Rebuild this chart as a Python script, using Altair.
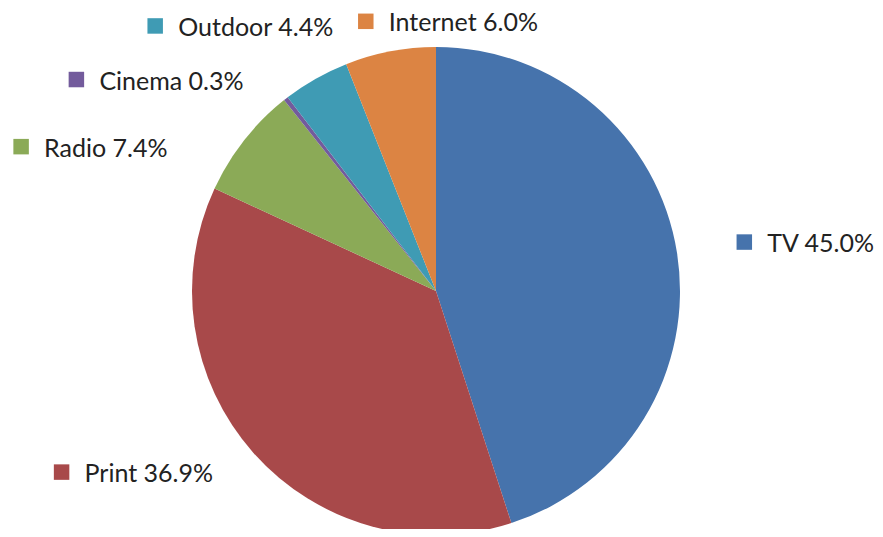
import altair as alt
import pandas as pd

# --- data ---
categories = ["TV", "Print", "Radio", "Cinema", "Outdoor", "Internet"]
shares = [45.0, 36.9, 7.4, 0.3, 4.4, 6.0]
labels = ["TV 45.0%", "Print 36.9%", "Radio 7.4%", "Cinema 0.3%", "Outdoor 4.4%", "Internet 6.0%"]
colors = ["#4673AC", "#A8494A", "#8BAA57", "#735B9C", "#3F9BB4", "#DC8443"]

# --- layout (label nudges, as dragged in the original) ---
label_nudge_x = [12, -150, -179, -175, -133, -14]
label_nudge_y = [-2, -18, 41, 25, -4, 25]

CX, CY, R_PIE, R_LAB = 428, 283, 244, 300

df = pd.DataFrame({
    "cat": categories,
    "value": shares,
    "label": labels,
    "idx": list(range(len(categories))),
    "nx": label_nudge_x,
    "ny": label_nudge_y,
})

color_scale = alt.Scale(domain=categories, range=colors)

pie = alt.Chart(df).mark_arc(radius=R_PIE).encode(
    theta=alt.Theta("value:Q", stack=True),
    order=alt.Order("idx:Q"),
    color=alt.Color("cat:N", scale=color_scale, legend=None),
    x=alt.value(CX),
    y=alt.value(CY),
)

lab_base = (
    alt.Chart(df)
    .transform_window(cum="sum(value)", sort=[{"field": "idx"}], frame=[None, 0])
    .transform_joinaggregate(total="sum(value)")
    .transform_calculate(
        mid="(datum.cum - datum.value/2)/datum.total",
    )
    .transform_calculate(
        lx=f"{CX} + {R_LAB}*sin(2*PI*datum.mid) + datum.nx",
        ly=f"{CY} - {R_LAB}*cos(2*PI*datum.mid) + datum.ny",
    )
)

markers = lab_base.mark_square(size=240, opacity=1, filled=True).encode(
    x=alt.X("lx:Q", scale=None),
    y=alt.Y("ly:Q", scale=None),
    color=alt.Color("cat:N", scale=color_scale, legend=None),
)

texts = lab_base.mark_text(
    align="left", baseline="middle", dx=23, dy=2,
    font="Lato", fontSize=25, color="#222222",
).encode(
    x=alt.X("lx:Q", scale=None),
    y=alt.Y("ly:Q", scale=None),
    text="label:N",
)

chart = (
    alt.layer(pie, markers, texts)
    .properties(width=867, height=521, padding=0,
                autosize=alt.AutoSizeParams(type="none"))
    .configure_view(stroke=None)
)

chart.save("out.html", embed_options={"renderer": "svg", "actions": False})
